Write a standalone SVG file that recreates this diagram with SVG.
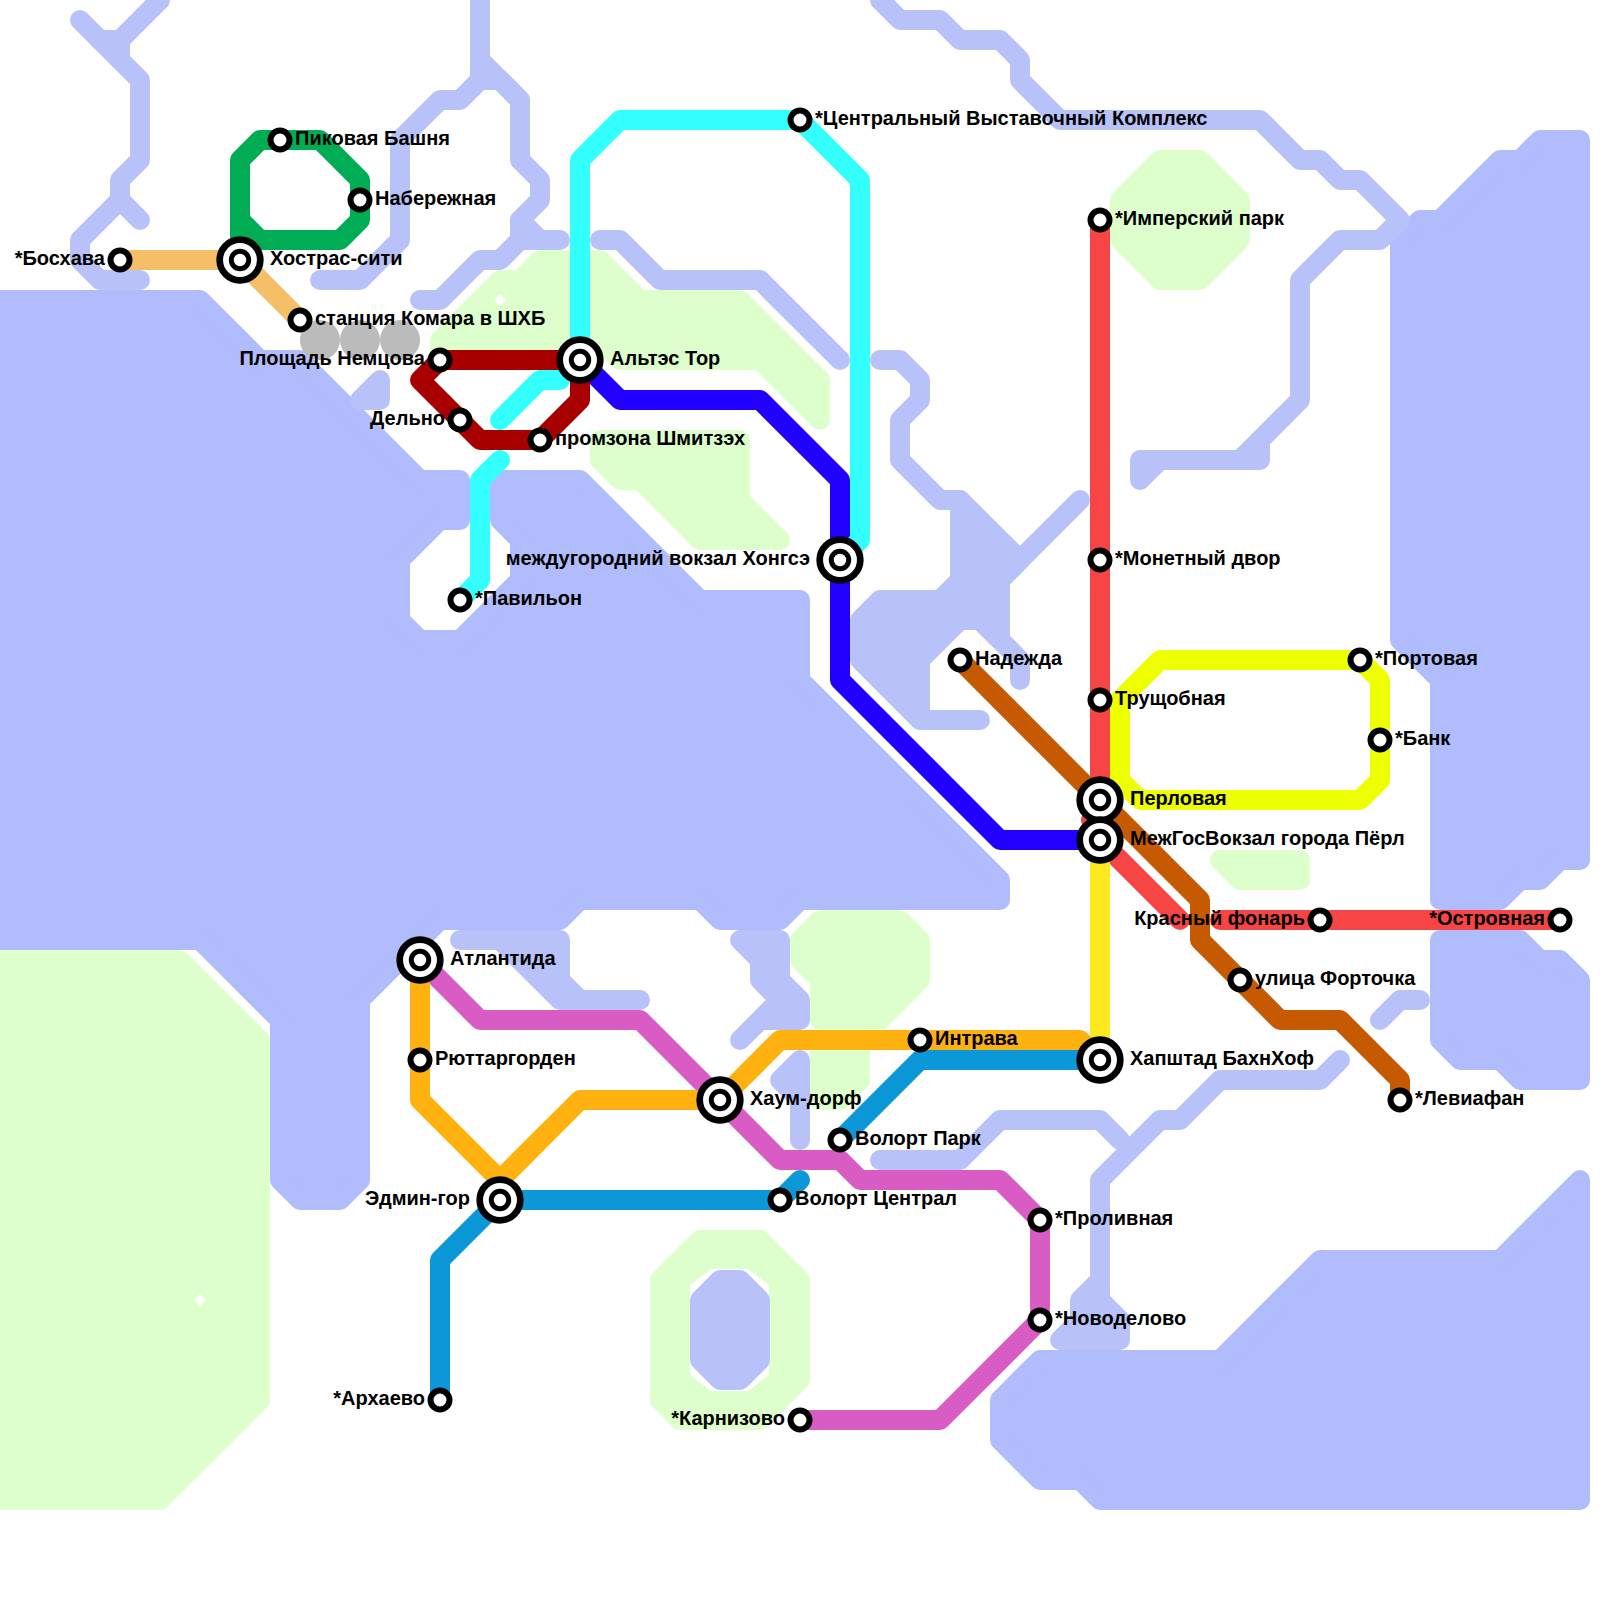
<svg xmlns="http://www.w3.org/2000/svg" width="1600" height="1600" viewBox="0 0 1600 1600">
<style>
.w{fill:#b0bcfc;stroke:#b0bcfc;stroke-width:20;stroke-linejoin:round}
.r{fill:none;stroke:#b8c2f8;stroke-width:20;stroke-linejoin:round;stroke-linecap:round}
.rf{fill:#b8c2f8;stroke:#b8c2f8;stroke-width:20;stroke-linejoin:round}
.g{fill:#dcffcc;stroke:#dcffcc;stroke-width:20;stroke-linejoin:round}
.l{fill:none;stroke-width:20;stroke-linejoin:round;stroke-linecap:round}
.s{fill:#fff;stroke:#000;stroke-width:6}
.o{fill:#fff;stroke:#000;stroke-width:6.7}
.i{fill:#fff;stroke:#000;stroke-width:5}
text{font-family:"Liberation Sans",Arial,sans-serif;font-weight:bold;font-size:20px;fill:#000}
.e{text-anchor:end}
</style>
<rect width="1600" height="1600" fill="#fff"/>
<g id="land-and-water">
<polygon class="g" points="-20,960 180,960 260,1040 260,1400 160,1500 -20,1500"/>
<polygon class="g" points="440,340 480,300 500,280 520,280 540,260 600,260 640,300 740,300 820,380 820,420 760,360 620,360 580,320 580,360 440,360"/>
<polygon class="g" points="600,440 740,440 740,500 780,540 700,540 640,480 620,480 600,460"/>
<polygon class="g" points="1120,200 1160,160 1200,160 1240,200 1240,240 1200,280 1160,280 1120,240"/>
<polygon class="g" points="1220,860 1300,860 1300,880 1240,880"/>
<polygon class="g" points="800,940 820,920 900,920 920,940 920,980 880,1020 820,1020 820,980 800,960"/>
<polygon class="g" points="820,1040 860,1040 860,1080 840,1100 820,1100"/>
<polygon class="g" points="660,1280 700,1240 760,1240 800,1280 800,1380 760,1420 680,1420 660,1400"/>
<polygon points="690,1285 711,1269 748,1269 769,1285 769,1375 748,1391 711,1391 690,1375" fill="#fff"/>
<polygon points="200,1294 206,1300 200,1306 194,1300" fill="#fff"/>
<polygon points="500,294 506,300 500,306 494,300" fill="#fff"/>
<polygon class="rf" points="700,1300 720,1280 740,1280 760,1300 760,1360 740,1380 720,1380 700,1360"/>
<polygon class="w" points="-20,300 200,300 260,360 300,360 420,480 460,480 460,520 440,520 400,560 400,620 420,640 460,640 520,580 520,540 500,520 500,480 580,480 700,600 800,600 800,680 1000,880 1000,900 800,900 780,920 720,920 700,900 580,900 560,920 440,920 360,1000 360,1180 340,1200 300,1200 280,1180 280,1020 200,940 -20,940"/>
<polygon class="w" points="1400,240 1420,220 1440,220 1500,160 1520,160 1540,140 1580,140 1580,860 1560,860 1540,880 1520,880 1500,900 1440,900 1440,680 1400,640"/>
<polygon class="w" points="1440,940 1520,940 1540,960 1560,960 1580,980 1580,1080 1520,1080 1500,1060 1460,1060 1440,1040"/>
<polygon class="w" points="1580,1180 1500,1260 1320,1260 1220,1360 1040,1360 1000,1400 1000,1440 1040,1480 1080,1480 1100,1500 1580,1500"/>
<polyline class="r" points="80,20 140,80 140,160 120,180 120,200 80,240 80,260 100,280 140,280"/>
<polyline class="r" points="120,200 140,220"/>
<polyline class="r" points="100,40 120,40 160,0"/>
<polyline class="r" points="120,40 120,60"/>
<polyline class="r" points="480,0 480,60 520,100 520,160 540,180 540,200 520,220 540,240 560,240"/>
<polyline class="r" points="420,300 440,300 480,260 500,260 520,240 540,240"/>
<polyline class="r" points="520,220 520,240"/>
<polyline class="r" points="320,280 360,280 400,240 400,140 440,100 460,100 480,80 500,80 520,100"/>
<polyline class="r" points="480,60 480,80"/>
<polyline class="r" points="600,240 620,240 660,280 760,280 840,360"/>
<polyline class="r" points="880,360 900,360 920,380 920,400 900,420 900,460 940,500 960,500"/>
<polygon class="rf" points="960,500 1020,560 1000,580 1000,640 980,620 960,620 920,660 920,720 860,660 860,620 880,600 940,600 960,580"/>
<polyline class="r" points="1080,500 1000,580"/>
<polyline class="r" points="980,620 1020,660 1020,680"/>
<polyline class="r" points="920,720 980,720"/>
<polyline class="r" points="880,0 900,20 940,20 960,40 1000,40 1020,60 1020,80 1060,120 1260,120 1300,160 1320,160 1340,180 1360,180 1400,220 1380,240 1340,240 1300,280 1300,400 1240,460"/>
<polyline class="r" points="1260,440 1260,460 1140,460 1140,480 1160,460"/>
<polyline class="r" points="1380,1020 1400,1000 1420,1000"/>
<polyline class="r" points="1340,1060 1320,1080 1220,1080 1180,1120 1160,1120 1100,1180 1100,1280"/>
<polygon class="rf" points="1100,1280 1080,1300 1080,1320 1060,1340 1120,1340 1120,1320 1100,1300"/>
<polyline class="r" points="880,1160 960,1160 1000,1120 1100,1120 1120,1140"/>
<polygon class="rf" points="460,940 560,940 560,980 580,1000 640,1000 560,1000 500,940"/>
<polygon class="rf" points="740,940 780,940 780,980 800,1000 800,1020 760,1020 740,1040 780,1000 760,980 760,960"/>
<polygon class="rf" points="800,1060 780,1080 800,1100 800,1140"/>
<polygon class="rf" points="380,380 360,400 380,400"/>
<circle cx="320" cy="340" r="20" fill="#bbb"/>
<circle cx="360" cy="340" r="20" fill="#bbb"/>
<circle cx="400" cy="340" r="20" fill="#bbb"/>
</g>
<g id="connectors">
<polyline class="l" stroke="#f74545" points="1100,220 1100,800 1091,820 1100,840 1180,920"/>
<polyline class="l" stroke="#f74545" points="1220,920 1560,920"/>
<polyline class="l" stroke="#ffe820" points="1100,840 1100,1060"/>
<polygon class="l" stroke="#eeff00" points="1120,780 1120,700 1160,660 1360,660 1380,680 1380,780 1360,800 1140,800"/>
<polyline class="l" stroke="#c65a00" points="960,660 1200,900 1200,940 1280,1020 1340,1020 1400,1080 1400,1100"/>
<polyline class="l" stroke="#2200ff" points="580,360 620,400 760,400 840,480 840,680 1000,840 1100,840"/>
<polyline class="l" stroke="#33ffff" points="840,560 860,540 860,180 800,120 620,120 580,160 580,360"/>
<polyline class="l" stroke="#33ffff" points="560,380 540,380 500,420"/>
<polyline class="l" stroke="#33ffff" points="500,460 480,480 480,580 460,600"/>
<polygon class="l" stroke="#a80000" points="440,360 580,360 580,400 540,440 480,440 420,380"/>
<polygon class="l" stroke="#00ad55" points="240,260 240,160 260,140 320,140 360,180 360,220 340,240 260,240 240,220"/>
<polyline class="l" stroke="#f4bf66" points="120,260 240,260 300,320"/>
<polyline class="l" stroke="#d95bc4" points="420,960 480,1020 640,1020 780,1160 840,1160 860,1180 1000,1180 1040,1220 1040,1320 940,1420 800,1420"/>
<polyline class="l" stroke="#ffb10f" points="420,960 420,1100 500,1180 500,1200"/>
<polyline class="l" stroke="#ffb10f" points="500,1180 580,1100 720,1100 780,1040 1080,1040 1100,1060"/>
<polyline class="l" stroke="#0c98d8" points="440,1400 440,1260 500,1200 780,1200 800,1180"/>
<polyline class="l" stroke="#0c98d8" points="840,1140 920,1060 1100,1060"/>
</g>
<g id="n-boskhava"><circle class="s" cx="120" cy="260" r="9.5"/><text class="e" x="105" y="265">*Босхава</text></g>
<g id="n-khostras"><circle class="o" cx="240" cy="260" r="20.3"/><circle class="i" cx="240" cy="260" r="8.7"/><text x="270" y="265">Хострас-сити</text></g>
<g id="n-komara"><circle class="s" cx="300" cy="320" r="9.5"/><text x="315" y="325">станция Комара в ШХБ</text></g>
<g id="n-pikovaya"><circle class="s" cx="280" cy="140" r="9.5"/><text x="295" y="145">Пиковая Башня</text></g>
<g id="n-naberezhnaya"><circle class="s" cx="360" cy="200" r="9.5"/><text x="375" y="205">Набережная</text></g>
<g id="n-nemtsova"><circle class="s" cx="440" cy="360" r="9.5"/><text class="e" x="425" y="365">Площадь Немцова</text></g>
<g id="n-altes"><circle class="o" cx="580" cy="360" r="20.3"/><circle class="i" cx="580" cy="360" r="8.7"/><text x="610" y="365">Альтэс Тор</text></g>
<g id="n-delno"><circle class="s" cx="460" cy="420" r="9.5"/><text class="e" x="445" y="425">Дельно</text></g>
<g id="n-promzona"><circle class="s" cx="540" cy="440" r="9.5"/><text x="555" y="445">промзона Шмитзэх</text></g>
<g id="n-pavilon"><circle class="s" cx="460" cy="600" r="9.5"/><text x="475" y="605">*Павильон</text></g>
<g id="n-khongse"><circle class="o" cx="840" cy="560" r="20.3"/><circle class="i" cx="840" cy="560" r="8.7"/><text class="e" x="810" y="565">междугородний вокзал Хонгсэ</text></g>
<g id="n-tsentralny"><circle class="s" cx="800" cy="120" r="9.5"/><text x="815" y="125">*Центральный Выставочный Комплекс</text></g>
<g id="n-imperial"><circle class="s" cx="1100" cy="220" r="9.5"/><text x="1115" y="225">*Имперский парк</text></g>
<g id="n-monetny"><circle class="s" cx="1100" cy="560" r="9.5"/><text x="1115" y="565">*Монетный двор</text></g>
<g id="n-trushchobnaya"><circle class="s" cx="1100" cy="700" r="9.5"/><text x="1115" y="705">Трущобная</text></g>
<g id="n-perlovaya"><circle class="o" cx="1100" cy="800" r="20.3"/><circle class="i" cx="1100" cy="800" r="8.7"/><text x="1130" y="805">Перловая</text></g>
<g id="n-mezhgos"><circle class="o" cx="1100" cy="840" r="20.3"/><circle class="i" cx="1100" cy="840" r="8.7"/><text x="1130" y="845">МежГосВокзал города Пёрл</text></g>
<g id="n-krasny"><circle class="s" cx="1320" cy="920" r="9.5"/><text class="e" x="1305" y="925">Красный фонарь</text></g>
<g id="n-ostrovnaya"><circle class="s" cx="1560" cy="920" r="9.5"/><text class="e" x="1545" y="925">*Островная</text></g>
<g id="n-portovaya"><circle class="s" cx="1360" cy="660" r="9.5"/><text x="1375" y="665">*Портовая</text></g>
<g id="n-bank"><circle class="s" cx="1380" cy="740" r="9.5"/><text x="1395" y="745">*Банк</text></g>
<g id="n-nadezhda"><circle class="s" cx="960" cy="660" r="9.5"/><text x="975" y="665">Надежда</text></g>
<g id="n-fortochka"><circle class="s" cx="1240" cy="980" r="9.5"/><text x="1255" y="985">улица Форточка</text></g>
<g id="n-leviafan"><circle class="s" cx="1400" cy="1100" r="9.5"/><text x="1415" y="1105">*Левиафан</text></g>
<g id="n-khapshtad"><circle class="o" cx="1100" cy="1060" r="20.3"/><circle class="i" cx="1100" cy="1060" r="8.7"/><text x="1130" y="1065">Хапштад БахнХоф</text></g>
<g id="n-intrava"><circle class="s" cx="920" cy="1040" r="9.5"/><text x="935" y="1045">Интрава</text></g>
<g id="n-khaum"><circle class="o" cx="720" cy="1100" r="20.3"/><circle class="i" cx="720" cy="1100" r="8.7"/><text x="750" y="1105">Хаум-дорф</text></g>
<g id="n-atlantida"><circle class="o" cx="420" cy="960" r="20.3"/><circle class="i" cx="420" cy="960" r="8.7"/><text x="450" y="965">Атлантида</text></g>
<g id="n-ryuttar"><circle class="s" cx="420" cy="1060" r="9.5"/><text x="435" y="1065">Рюттаргорден</text></g>
<g id="n-edmin"><circle class="o" cx="500" cy="1200" r="20.3"/><circle class="i" cx="500" cy="1200" r="8.7"/><text class="e" x="470" y="1205">Эдмин-гор</text></g>
<g id="n-volort-c"><circle class="s" cx="780" cy="1200" r="9.5"/><text x="795" y="1205">Волорт Централ</text></g>
<g id="n-volort-p"><circle class="s" cx="840" cy="1140" r="9.5"/><text x="855" y="1145">Волорт Парк</text></g>
<g id="n-prolivnaya"><circle class="s" cx="1040" cy="1220" r="9.5"/><text x="1055" y="1225">*Проливная</text></g>
<g id="n-novodelovo"><circle class="s" cx="1040" cy="1320" r="9.5"/><text x="1055" y="1325">*Новоделово</text></g>
<g id="n-arkhaevo"><circle class="s" cx="440" cy="1400" r="9.5"/><text class="e" x="425" y="1405">*Архаево</text></g>
<g id="n-karnizovo"><circle class="s" cx="800" cy="1420" r="9.5"/><text class="e" x="785" y="1425">*Карнизово</text></g>
</svg>
